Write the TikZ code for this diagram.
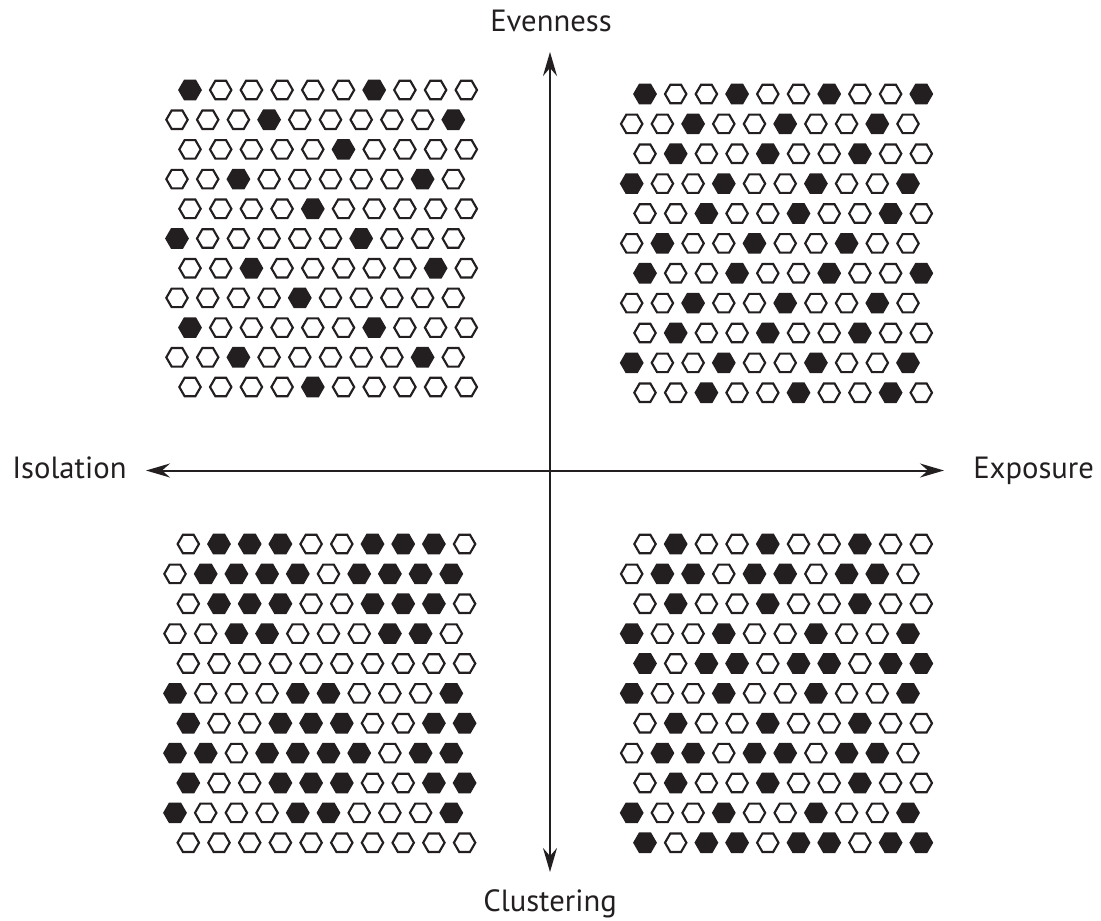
\documentclass[tikz,border=0pt]{standalone}
\usepackage{fontspec}
\setmainfont{PT Sans}
\usetikzlibrary{arrows.meta}
\definecolor{ink}{HTML}{231F20}
\tikzset{
  hexcell/.style={draw=ink, line width=1.6pt},
  axisline/.style={draw=ink, line width=1.5pt,
    {Stealth[length=18pt,width=10.5pt,inset=6pt]}-{Stealth[length=18pt,width=10.5pt,inset=6pt]}},
  lbl/.style={font=\fontsize{23}{27}\selectfont, text=ink, inner sep=0pt}
}
\newcommand\hexgrid[5]{%
  \foreach \row [count=\r] in {#5} {
    \pgfmathsetmacro\xs{mod(\r,2)==1 ? #1 : #2}
    \foreach \v [count=\c] in \row {
      \pgfmathsetmacro\hx{\xs+(\c-1)*30.7}
      \pgfmathsetmacro\hy{#3+(\r-1)*#4}
      \ifnum\v=1 \def\fc{ink}\else\def\fc{white}\fi
      \draw[hexcell, fill=\fc] (\hx,\hy) ++(0:10.7) -- ++(120:10.7) -- ++(180:10.7)
        -- ++(240:10.7) -- ++(300:10.7) -- ++(0:10.7) -- cycle;
    }
  }
}
\begin{document}
\begin{tikzpicture}[x=0.75pt,y=-0.75pt]
\useasboundingbox (0,0) rectangle (1101,921);
% top left: evenness + isolation
\hexgrid{190}{177}{90}{29.7}{%
{1,0,0,0,0,0,1,0,0,0},
{0,0,0,1,0,0,0,0,0,1},
{0,0,0,0,0,1,0,0,0,0},
{0,0,1,0,0,0,0,0,1,0},
{0,0,0,0,1,0,0,0,0,0},
{1,0,0,0,0,0,1,0,0,0},
{0,0,1,0,0,0,0,0,1,0},
{0,0,0,0,1,0,0,0,0,0},
{1,0,0,0,0,0,1,0,0,0},
{0,0,1,0,0,0,0,0,1,0},
{0,0,0,0,1,0,0,0,0,0}}
% top right: evenness + exposure
\hexgrid{645}{631.7}{94}{29.87}{%
{1,0,0,1,0,0,1,0,0,1},
{0,0,1,0,0,1,0,0,1,0},
{0,1,0,0,1,0,0,1,0,0},
{1,0,0,1,0,0,1,0,0,1},
{0,0,1,0,0,1,0,0,1,0},
{0,1,0,0,1,0,0,1,0,0},
{1,0,0,1,0,0,1,0,0,1},
{0,0,1,0,0,1,0,0,1,0},
{0,1,0,0,1,0,0,1,0,0},
{1,0,0,1,0,0,1,0,0,1},
{0,0,1,0,0,1,0,0,1,0}}
% bottom left: clustering + isolation
\hexgrid{188.3}{175}{544}{29.87}{%
{0,1,1,1,0,0,1,1,1,0},
{0,1,1,1,1,0,1,1,1,1},
{0,1,1,1,0,0,1,1,1,0},
{0,0,1,1,0,0,0,1,1,0},
{0,0,0,0,0,0,0,0,0,0},
{1,0,0,0,1,1,0,0,0,1},
{1,0,0,1,1,1,0,0,1,1},
{1,1,0,1,1,1,1,0,1,1},
{1,0,0,1,1,1,0,0,1,1},
{1,0,0,0,1,1,0,0,0,1},
{0,0,0,0,0,0,0,0,0,0}}
% bottom right: clustering + exposure
\hexgrid{645}{631.7}{544}{29.87}{%
{0,1,0,0,1,0,0,1,0,0},
{0,1,1,0,1,1,0,1,1,0},
{0,1,0,0,1,0,0,1,0,0},
{1,0,0,1,0,0,1,0,0,1},
{1,0,1,1,0,1,1,0,1,1},
{1,0,0,1,0,0,1,0,0,1},
{0,1,0,0,1,0,0,1,0,0},
{0,1,1,0,1,1,0,1,1,0},
{0,1,0,0,1,0,0,1,0,0},
{1,0,0,1,0,0,1,0,0,1},
{1,0,1,1,0,1,1,0,1,1}}
% axes
\coordinate (top) at (550,52);
\coordinate (bottom) at (550,872);
\coordinate (left) at (146,470.5);
\coordinate (right) at (944,470.5);
\draw[axisline] (bottom) -- (top);
\draw[axisline] (left) -- (right);
\node[lbl, anchor=base] (even) at (551,31.5) {Evenness};
\node[lbl, anchor=base] (clus) at (550,911) {Clustering};
\node[lbl, anchor=base west] (iso) at (12,478) {Isolation};
\node[lbl, anchor=base west] (expo) at (973,478) {Exposure};
\end{tikzpicture}
\end{document}
